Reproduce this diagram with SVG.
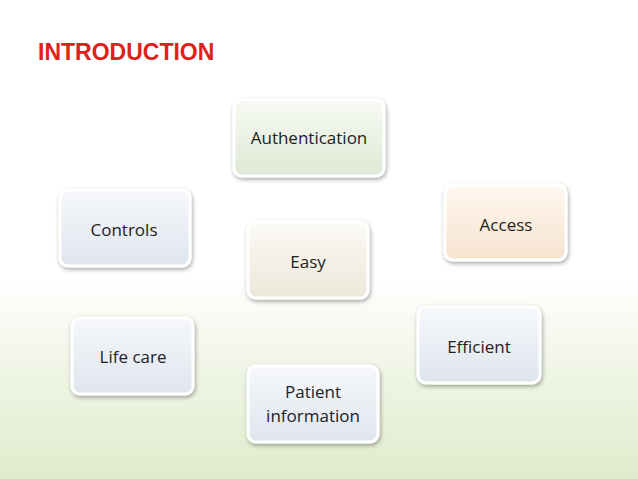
<svg xmlns="http://www.w3.org/2000/svg" width="638" height="479" viewBox="0 0 638 479">
<defs>
<linearGradient id="bg" x1="0" y1="0" x2="0" y2="1"><stop offset="0" stop-color="#ffffff"/><stop offset="0.58" stop-color="#ffffff"/><stop offset="0.75" stop-color="#f1f6e8"/><stop offset="1" stop-color="#e1ebcc"/></linearGradient>
<linearGradient id="gG" x1="0" y1="0" x2="0" y2="1"><stop offset="0" stop-color="#f7faf3"/><stop offset="1" stop-color="#dfe8d5"/></linearGradient>
<linearGradient id="gP" x1="0" y1="0" x2="0" y2="1"><stop offset="0" stop-color="#fff8f0"/><stop offset="1" stop-color="#f6e3cf"/></linearGradient>
<linearGradient id="gT" x1="0" y1="0" x2="0" y2="1"><stop offset="0" stop-color="#fbfaf5"/><stop offset="1" stop-color="#ece7d9"/></linearGradient>
<linearGradient id="gB" x1="0" y1="0" x2="0" y2="1"><stop offset="0" stop-color="#f6f8fb"/><stop offset="1" stop-color="#dfe5ee"/></linearGradient>
<filter id="sh" x="-20%" y="-20%" width="140%" height="150%"><feDropShadow dx="1" dy="2" stdDeviation="2" flood-color="#000" flood-opacity="0.35"/></filter>
<style>
.b{stroke:#ffffff;stroke-width:3;filter:url(#sh)}
.t{font-family:"Open Sans","Liberation Sans",sans-serif;font-size:17px;fill:#222;text-anchor:middle}
</style>
</defs>
<rect width="638" height="479" fill="url(#bg)"/>
<text x="38" y="60" font-family="'Liberation Sans',sans-serif" font-weight="bold" font-size="23" fill="#e0201b">INTRODUCTION</text>
<g id="authentication"><rect class="b" x="234" y="100" width="150" height="76" rx="8" fill="url(#gG)"/><text class="t" x="309" y="144">Authentication</text></g>
<g id="access"><rect class="b" x="445" y="185" width="121" height="75" rx="8" fill="url(#gP)"/><text class="t" x="506" y="231">Access</text></g>
<g id="controls"><rect class="b" x="60" y="190" width="130" height="76" rx="8" fill="url(#gB)"/><text class="t" x="124" y="236">Controls</text></g>
<g id="easy"><rect class="b" x="248" y="222" width="120" height="76" rx="8" fill="url(#gT)"/><text class="t" x="308" y="268">Easy</text></g>
<g id="lifecare"><rect class="b" x="72" y="318" width="121" height="76" rx="8" fill="url(#gB)"/><text class="t" x="133" y="363">Life care</text></g>
<g id="efficient"><rect class="b" x="418" y="307" width="122" height="76" rx="8" fill="url(#gB)"/><text class="t" x="479" y="353">Efficient</text></g>
<g id="patient"><rect class="b" x="248" y="366" width="130" height="76" rx="8" fill="url(#gB)"/><text class="t" x="313" y="398">Patient</text><text class="t" x="313" y="422">information</text></g>
<g id="connectors"/>
</svg>
